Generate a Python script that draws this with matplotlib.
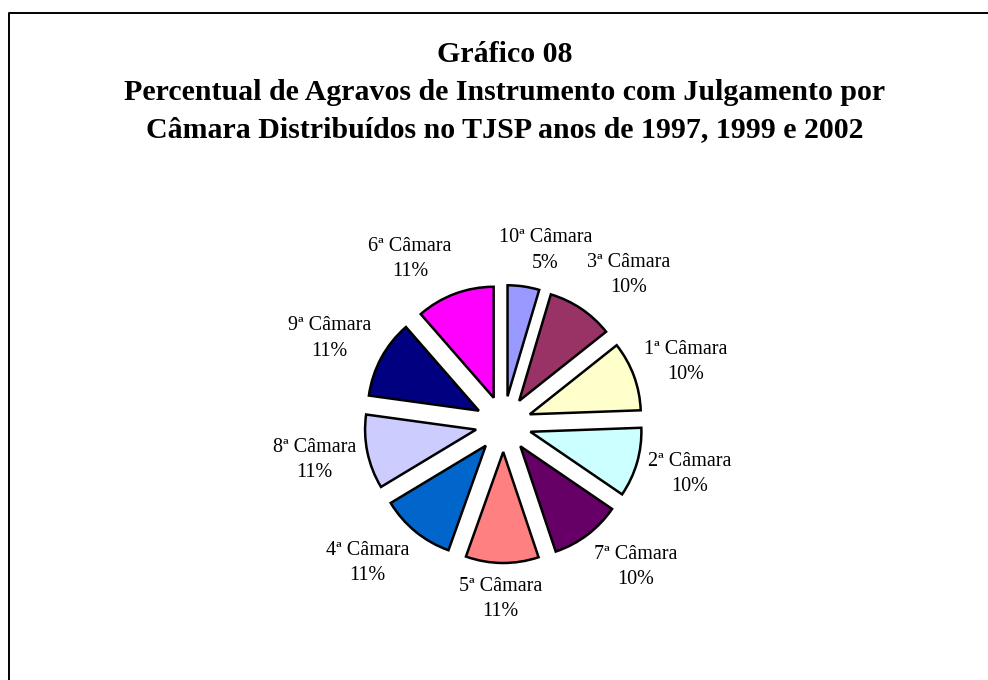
import numpy as np
import matplotlib
matplotlib.use('Agg')
import matplotlib.pyplot as plt

# dados do gráfico (sentido horário a partir do topo)
camaras = ['10ª Câmara', '3ª Câmara', '1ª Câmara', '2ª Câmara', '7ª Câmara',
           '5ª Câmara', '4ª Câmara', '8ª Câmara', '9ª Câmara', '6ª Câmara']
percentuais = [4.6, 9.7, 10.1, 10.1, 10.3, 10.6, 10.9, 10.8, 11.4, 11.4]
cores = ['#9999FF', '#993366', '#FFFFCC', '#CCFFFF', '#660066',
         '#FF8080', '#0066CC', '#CCCCFF', '#000080', '#FF00FF']
titulo = ['Gráfico 08',
          'Percentual de Agravos de Instrumento com Julgamento por',
          'Câmara Distribuídos no TJSP anos de 1997, 1999 e 2002']

plt.rcParams['font.family'] = ['Liberation Serif', 'DejaVu Serif']

W, H = 988, 680
fig = plt.figure(figsize=(W / 100, H / 100), dpi=100)
ax = fig.add_axes([0, 0, 1, 1])

# pizza em unidades de pixel (y para cima)
cx, cy, r = 503.5, H - 424, 111
wedges, _ = ax.pie(percentuais, colors=cores, startangle=90, counterclock=False,
                   explode=[28] * len(percentuais), radius=r, center=(cx, cy),
                   labeldistance=None, frame=True,
                   wedgeprops=dict(edgecolor='black', linewidth=1.8))

# rótulos ao redor, no estilo do Excel
total = sum(percentuais)
R, hw, hh = 152, 40, 23
for w, nome, p in zip(wedges, camaras, percentuais):
    t = np.deg2rad((w.theta1 + w.theta2) / 2)
    x = cx + R * np.cos(t) + hw * np.clip(3.5 * np.cos(t), -1, 1)
    y = cy + R * np.sin(t) + hh * np.clip(1.2 * np.sin(t), -1, 1)
    ax.text(x, y, f'{nome}\n{p / total * 100:.0f}%', ha='center', va='center',
            multialignment='center', fontsize=14.5, linespacing=1.45)

ax.set_xlim(0, W)
ax.set_ylim(0, H)
ax.set_aspect('equal')
ax.axis('off')

# moldura (só esquerda e topo aparecem)
ax.plot([8.5, 8.5, W + 5], [-5, H - 12.5, H - 12.5], color='black', lw=1.4,
        clip_on=False)

for linha, base in zip(titulo, [62, 100, 137]):
    ax.text(505, H - base, linha, ha='center', va='baseline', fontsize=21.5,
            fontweight='bold')

fig.savefig('out.png', dpi=100)
